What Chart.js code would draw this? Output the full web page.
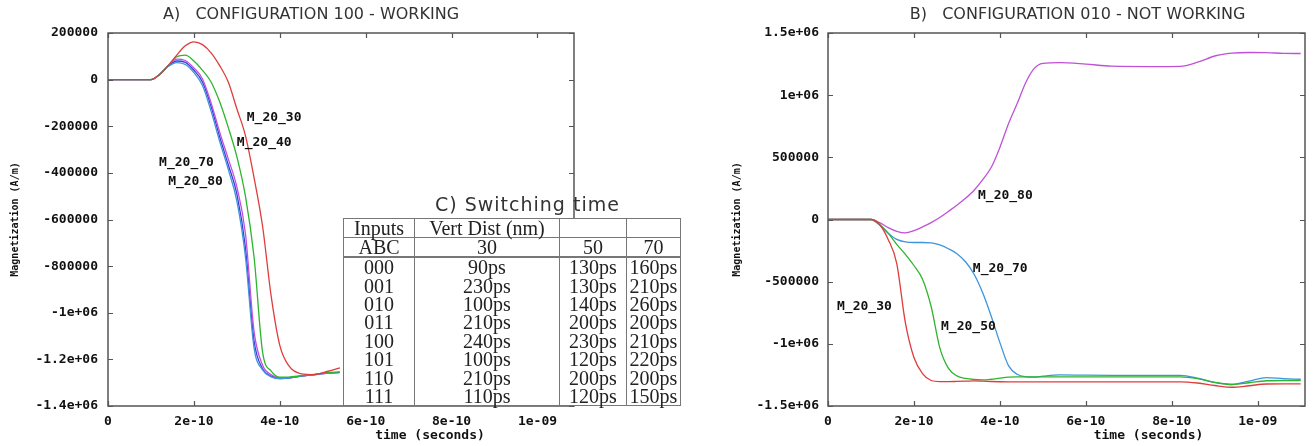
<!DOCTYPE html>
<html>
<head>
<meta charset="utf-8">
<script src="https://cdn.jsdelivr.net/npm/chart.js@4.4.1/dist/chart.umd.min.js"></script>
<style>
  body { margin: 0; background: #fff; width: 1314px; height: 446px; position: relative; overflow: hidden; }
  canvas { position: absolute; top: 0; }
  #chartA { left: 0; z-index: 1; }
  #chartB { left: 700px; z-index: 1; }
  #caption {
    position: absolute; left: 435px; top: 192px; z-index: 3;
    font: 19px "DejaVu Sans", sans-serif; letter-spacing: 1px; line-height: 24px; color: #333;
  }
  #sw {
    position: absolute; left: 343px; top: 218px; z-index: 2;
    border-collapse: collapse; background: #fff; table-layout: fixed;
    font: 20px "Liberation Serif", "DejaVu Serif", serif; color: #222;
  }
  #sw td {
    border-left: 1px solid #777; border-right: 1px solid #777;
    padding: 0 2px; text-align: center; line-height: 18px; white-space: nowrap;
  }
  #sw tr.top td { border-top: 1px solid #777; border-bottom: 1px solid #777; height: 18px; }
  #sw tr.head td { border-bottom: 2px solid #777; height: 17px; }
  #sw tr.row td { height: 18.4px; }
  #sw tr.last td { border-bottom: 1px solid #777; }
</style>
</head>
<body>
<canvas id="chartA" width="600" height="446"></canvas>
<canvas id="chartB" width="614" height="446"></canvas>
<div id="caption">C) Switching time</div>
<table id="sw">
  <colgroup><col style="width:71px"><col style="width:145px"><col style="width:67px"><col style="width:54px"></colgroup>
  <tbody id="swBody"></tbody>
</table>
<script>
// time values are in units of 1e-10 s
var timeA = [0, 0.5, 1.0, 1.2, 1.4, 1.6, 1.8, 2.0, 2.2, 2.4, 2.6, 2.8, 3.0, 3.2, 3.4, 3.6, 3.8, 4.0, 4.2, 4.5, 4.8, 5.1, 5.4];
var magA30 = [0, 0, 0, 22000, 60000, 105000, 145000, 162000, 150000, 115000, 60000, -10000, -125000, -240000, -420000, -630000, -930000, -1140000, -1225000, -1262000, -1265000, -1252000, -1236000];
var magA40 = [0, 0, 0, 22000, 60000, 98000, 105000, 80000, 40000, -10000, -95000, -205000, -330000, -500000, -760000, -1170000, -1250000, -1276000, -1276000, -1270000, -1264000, -1257000, -1254000];
var magA50 = [0, 0, 0, 22000, 56000, 73000, 65000, 30000, -25000, -135000, -265000, -385000, -520000, -760000, -1150000, -1245000, -1275000, -1283000, -1280000, -1272000, -1265000, -1259000, -1256000];
var magA70 = [0, 0, 0, 22000, 60000, 88000, 82000, 50000, 3000, -100000, -225000, -340000, -460000, -660000, -1080000, -1225000, -1266000, -1279000, -1279000, -1272000, -1266000, -1260000, -1257000];
var magA80 = [0, 0, 0, 22000, 58000, 80000, 74000, 40000, -10000, -115000, -245000, -365000, -490000, -720000, -1120000, -1240000, -1272000, -1282000, -1280000, -1272000, -1265000, -1259000, -1256000];

var timeB = [0, 0.5, 1.0, 1.2, 1.4, 1.6, 1.8, 2.0, 2.2, 2.4, 2.6, 2.8, 3.0, 3.2, 3.4, 3.6, 3.8, 4.0, 4.2, 4.4, 4.6, 4.8, 5.0, 5.4, 6.0, 6.6, 7.5, 8.2, 8.6, 9.0, 9.4, 9.8, 10.2, 10.6, 11.0];
var magB30 = [0, 0, 0, -40000, -160000, -354000, -830000, -1110000, -1240000, -1295000, -1304000, -1304000, -1302000, -1300000, -1298000, -1300000, -1303000, -1305000, -1306000, -1306000, -1306000, -1306000, -1306000, -1306000, -1306000, -1306000, -1306000, -1306000, -1315000, -1335000, -1349000, -1337000, -1323000, -1322000, -1322000];
var magB50 = [0, 0, 0, -40000, -110000, -200000, -280000, -370000, -480000, -700000, -1030000, -1195000, -1258000, -1278000, -1287000, -1290000, -1285000, -1276000, -1268000, -1265000, -1265000, -1265000, -1265000, -1265000, -1265000, -1265000, -1265000, -1265000, -1280000, -1310000, -1327000, -1313000, -1297000, -1295000, -1295000];
var magB70 = [0, 0, 0, -45000, -110000, -160000, -180000, -185000, -185000, -188000, -205000, -235000, -275000, -340000, -440000, -590000, -780000, -990000, -1175000, -1245000, -1265000, -1268000, -1260000, -1250000, -1252000, -1253000, -1253000, -1253000, -1275000, -1310000, -1327000, -1300000, -1272000, -1280000, -1285000];
var magB80 = [0, 0, 0, -25000, -65000, -95000, -108000, -90000, -60000, -25000, 16000, 65000, 115000, 170000, 235000, 320000, 420000, 580000, 770000, 930000, 1100000, 1215000, 1255000, 1262000, 1250000, 1233000, 1230000, 1232000, 1265000, 1315000, 1338000, 1343000, 1342000, 1336000, 1335000];

// tick values and their gnuplot style labels
var xTicks = [0, 2, 4, 6, 8, 10];
var xTickLabels = ["0", "2e-10", "4e-10", "6e-10", "8e-10", "1e-09"];
var yTicksA = [200000, 0, -200000, -400000, -600000, -800000, -1000000, -1200000, -1400000];
var yTickLabelsA = ["200000", "0", "-200000", "-400000", "-600000", "-800000", "-1e+06", "-1.2e+06", "-1.4e+06"];
var yTicksB = [1500000, 1000000, 500000, 0, -500000, -1000000, -1500000];
var yTickLabelsB = ["1.5e+06", "1e+06", "500000", "0", "-500000", "-1e+06", "-1.5e+06"];

// switching time table
var inputsABC = ["000", "001", "010", "011", "100", "101", "110", "111"];
var switch30 = ["90ps", "230ps", "100ps", "210ps", "240ps", "100ps", "210ps", "110ps"];
var switch50 = ["130ps", "130ps", "140ps", "200ps", "230ps", "120ps", "200ps", "120ps"];
var switch70 = ["160ps", "210ps", "260ps", "200ps", "210ps", "220ps", "200ps", "150ps"];

// curve labels, anchored in data units (time, magnetization)
var curveLabelsA = [
  { text: "M_20_30", t: 3.23, v: -165000 },
  { text: "M_20_40", t: 3.0, v: -272000 },
  { text: "M_20_70", t: 1.19, v: -354000 },
  { text: "M_20_80", t: 1.4, v: -436000 }
];
var curveLabelsB = [
  { text: "M_20_80", t: 3.49, v: 189000 },
  { text: "M_20_70", t: 3.37, v: -398000 },
  { text: "M_20_30", t: 0.21, v: -704000 },
  { text: "M_20_50", t: 2.63, v: -865000 }
];

var RED = "#e03c3c", GREEN = "#2db52d", LBLUE = "#3d94dc", MAGENTA = "#c050d8", BLUE = "#3a3ae0";
var tickFont = { family: "DejaVu Sans Mono", size: 13, weight: "bold" };

function points(times, values) {
  return times.map(function (t, i) { return { x: t, y: values[i] }; });
}

function line(label, times, values, color) {
  return {
    label: label,
    data: points(times, values),
    borderColor: color,
    borderWidth: 1.3,
    pointRadius: 0,
    cubicInterpolationMode: "monotone",
    fill: false
  };
}

// frame, inward ticks, curve labels and titles drawn like gnuplot
var gnuplotLook = {
  id: "gnuplotLook",
  afterDraw: function (chart, args, opts) {
    var ctx = chart.ctx, a = chart.chartArea, sx = chart.scales.x, sy = chart.scales.y;
    ctx.save();
    ctx.strokeStyle = "#555";
    ctx.lineWidth = 1.5;
    ctx.strokeRect(a.left, a.top, a.right - a.left, a.bottom - a.top);
    ctx.lineWidth = 1.2;
    ctx.beginPath();
    sx.ticks.forEach(function (t) {
      var px = Math.round(sx.getPixelForValue(t.value)) + 0.5;
      ctx.moveTo(px, a.bottom); ctx.lineTo(px, a.bottom - 5);
      ctx.moveTo(px, a.top); ctx.lineTo(px, a.top + 5);
    });
    sy.ticks.forEach(function (t) {
      var py = Math.round(sy.getPixelForValue(t.value)) + 0.5;
      ctx.moveTo(a.left, py); ctx.lineTo(a.left + 5, py);
      ctx.moveTo(a.right, py); ctx.lineTo(a.right - 5, py);
    });
    ctx.stroke();

    ctx.fillStyle = "#111";
    ctx.font = "bold 13px 'DejaVu Sans Mono'";
    ctx.textAlign = "left";
    ctx.textBaseline = "middle";
    opts.labels.forEach(function (l) {
      ctx.fillText(l.text, sx.getPixelForValue(l.t), sy.getPixelForValue(l.v));
    });

    var mid = (a.left + a.right) / 2;
    ctx.textAlign = "center";
    ctx.fillText(opts.xTitle, mid + opts.xTitleShift, 436);

    ctx.fillStyle = "#333";
    ctx.font = "16px 'DejaVu Sans'";
    ctx.fillText(opts.title, mid + opts.titleShift, 15);
    ctx.restore();
  }
};

function makeChart(id, datasets, cfg) {
  return new Chart(document.getElementById(id).getContext("2d"), {
    type: "line",
    data: { datasets: datasets },
    plugins: [gnuplotLook],
    options: {
      responsive: false,
      animation: false,
      events: [],
      layout: { padding: { top: 33, right: cfg.padRight, left: 0, bottom: 0 } },
      plugins: {
        legend: { display: false },
        tooltip: { enabled: false },
        gnuplotLook: {
          title: cfg.title, titleShift: cfg.titleShift,
          xTitle: "time (seconds)", xTitleShift: cfg.xTitleShift,
          labels: cfg.labels
        }
      },
      scales: {
        x: {
          type: "linear",
          min: 0,
          max: cfg.xMax,
          afterBuildTicks: function (scale) { scale.ticks = xTicks.map(function (v) { return { value: v }; }); },
          afterFit: function (scale) { scale.height = 40; },
          grid: { display: false, drawTicks: false },
          border: { display: false },
          ticks: {
            color: "#111", font: tickFont, padding: 8, maxRotation: 0, autoSkip: false,
            callback: function (v, i) { return xTickLabels[i]; }
          }
        },
        y: {
          min: cfg.yMin,
          max: cfg.yMax,
          afterBuildTicks: function (scale) { scale.ticks = cfg.yTicks.map(function (v) { return { value: v }; }); },
          afterFit: function (scale) { scale.width = cfg.axisWidth; },
          grid: { display: false, drawTicks: false },
          border: { display: false },
          title: {
            display: true,
            text: "Magnetization (A/m)",
            color: "#111",
            font: { family: "DejaVu Sans Mono", size: 10, weight: "bold" },
            padding: { top: cfg.yTitlePad, bottom: 0 }
          },
          ticks: {
            color: "#111", font: tickFont, padding: cfg.tickPad, autoSkip: false,
            callback: function (v, i) { return cfg.yLabels[i]; }
          }
        }
      }
    }
  });
}

window.onload = function () {
  // build the switching time table from its arrays
  var body = document.getElementById("swBody");
  var html = '<tr class="top"><td>Inputs</td><td>Vert Dist (nm)</td><td></td><td></td></tr>';
  html += '<tr class="head"><td>ABC</td><td>30</td><td>50</td><td>70</td></tr>';
  inputsABC.forEach(function (abc, i) {
    var cls = i === inputsABC.length - 1 ? "row last" : "row";
    html += '<tr class="' + cls + '"><td>' + abc + "</td><td>" + switch30[i] + "</td><td>" + switch50[i] + "</td><td>" + switch70[i] + "</td></tr>";
  });
  body.innerHTML = html;

  makeChart("chartA", [
    line("M_20_30", timeA, magA30, RED),
    line("M_20_40", timeA, magA40, GREEN),
    line("M_20_50", timeA, magA50, LBLUE),
    line("M_20_70", timeA, magA70, MAGENTA),
    line("M_20_80", timeA, magA80, BLUE)
  ], {
    title: "A)   CONFIGURATION 100 - WORKING", titleShift: -30, xTitleShift: 89,
    labels: curveLabelsA, xMax: 10.85, yMin: -1400000, yMax: 200000,
    yTicks: yTicksA, yLabels: yTickLabelsA, axisWidth: 108, yTitlePad: 9, tickPad: 10, padRight: 26
  });

  makeChart("chartB", [
    line("M_20_30", timeB, magB30, RED),
    line("M_20_50", timeB, magB50, GREEN),
    line("M_20_70", timeB, magB70, LBLUE),
    line("M_20_80", timeB, magB80, MAGENTA)
  ], {
    title: "B)   CONFIGURATION 010 - NOT WORKING", titleShift: 11, xTitleShift: 82,
    labels: curveLabelsB, xMax: 11.1, yMin: -1500000, yMax: 1500000,
    yTicks: yTicksB, yLabels: yTickLabelsB, axisWidth: 128, yTitlePad: 31, tickPad: 9, padRight: 9
  });
};
</script>
</body>
</html>
